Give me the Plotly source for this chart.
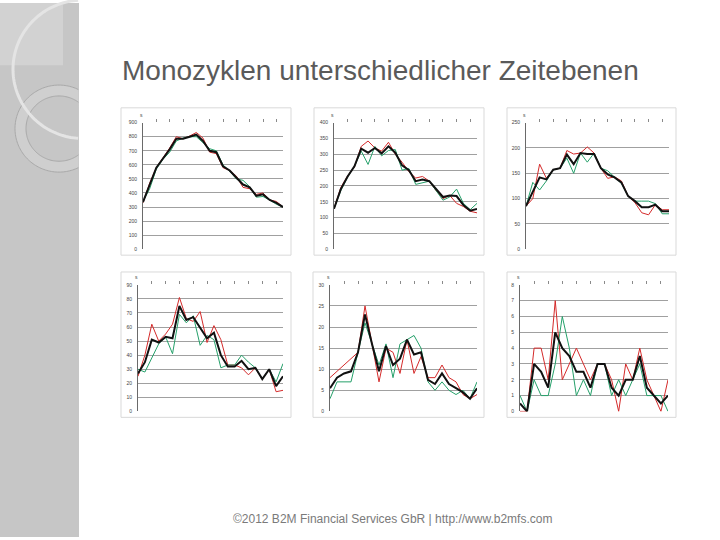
import numpy as np
import plotly.graph_objects as go

W, H = 720, 540

# ---------------- data ----------------
red1 = [330, 470, 580, 650, 720, 800, 785, 805, 830, 790, 690, 680, 580, 560, 520, 440, 430, 390, 400, 350, 340, 300]
green1 = [340, 430, 570, 640, 690, 770, 790, 800, 800, 760, 715, 700, 600, 555, 500, 490, 445, 370, 375, 350, 320, 300]
black1 = [335, 455, 580, 645, 710, 785, 785, 800, 815, 770, 700, 690, 590, 560, 510, 460, 440, 380, 390, 350, 330, 300]

red2 = [128, 195, 232, 260, 325, 342, 320, 310, 338, 300, 275, 245, 225, 230, 215, 185, 160, 170, 145, 135, 120, 115]
green2 = [128, 185, 228, 262, 310, 268, 325, 295, 312, 315, 250, 255, 205, 210, 215, 185, 155, 165, 190, 145, 125, 145]
black2 = [128, 190, 230, 262, 318, 305, 320, 303, 325, 305, 265, 250, 215, 220, 215, 190, 165, 170, 168, 140, 122, 127]

red3 = [85, 100, 168, 140, 157, 160, 195, 188, 190, 202, 190, 160, 140, 143, 135, 105, 92, 72, 68, 88, 78, 78]
green3 = [85, 132, 117, 135, 157, 160, 180, 150, 190, 172, 190, 160, 155, 142, 130, 105, 95, 95, 95, 90, 70, 70]
black3 = [85, 115, 142, 138, 157, 160, 187, 168, 190, 188, 188, 160, 148, 142, 132, 105, 95, 83, 83, 88, 75, 75]

red4 = [25, 40, 62, 50, 55, 62, 81, 66, 64, 71, 49, 61, 51, 33, 33, 31, 26, 31, 23, 30, 14, 15]
green4 = [30, 28, 38, 48, 53, 41, 69, 63, 68, 47, 54, 51, 31, 33, 33, 40, 35, 31, 23, 30, 21, 34]
black4 = [27, 35, 51, 49, 53, 52, 75, 65, 67, 59, 52, 56, 40, 32, 32, 36, 30, 31, 23, 30, 18, 25]

red5 = [8, 9.5, 11, 12.5, 14, 25, 16, 7, 15, 14, 9, 17, 9, 13, 8, 8, 11, 8, 7, 4, 3, 4]
green5 = [3, 7, 7, 7, 14, 21, 16, 11, 16, 8, 16, 17, 18, 15, 7, 5, 7, 5, 4, 5, 3, 7]
black5 = [5.5, 8, 9, 9.5, 14, 23, 16, 9.5, 15.5, 11, 12.5, 17, 13.5, 14, 7.5, 6.5, 9, 6.5, 5.5, 4.5, 3, 5.5]

red6 = [0, 0, 4, 4, 2, 7, 2, 3, 4, 3, 2, 3, 3, 2, 0, 3, 2, 4, 2, 1, 0, 2]
green6 = [1, 0, 2, 1, 1, 3, 6, 4, 1, 2, 1, 3, 3, 1, 2, 1, 2, 3, 1, 1, 1, 0]
black6 = [0.5, 0, 3, 2.5, 1.5, 5, 4, 3.5, 2.5, 2.5, 1.5, 3, 3, 1.5, 1, 2, 2, 3.5, 1.5, 1, 0.5, 1]

y_max = [900, 400, 250, 90, 30, 8]
y_step = [100, 50, 50, 10, 5, 1]

title_text = "Monozyklen unterschiedlicher Zeitebenen"
footer_text = "©2012 B2M Financial Services GbR | http://www.b2mfs.com"

series = [(red1, green1, black1), (red2, green2, black2), (red3, green3, black3),
          (red4, green4, black4), (red5, green5, black5), (red6, green6, black6)]

# ---------------- layout geometry (pixels) ----------------
plot_px = [  # x0, x1, ytop, ybottom
    (143, 283, 121, 249), (334, 477, 121, 249), (526, 669, 121, 249),
    (138, 283, 285, 413), (330, 477, 285, 413), (520, 668, 285, 413),
]
panel_px = [
    (121, 106, 291, 255), (314, 106, 484, 255), (507, 106, 676, 255),
    (121, 272, 291, 419), (313, 272, 484, 419), (507, 272, 676, 419),
]


def px(x):
    return x / W


def py(y):
    return 1 - y / H


fig = go.Figure()
layout = dict(
    width=W, height=H, margin=dict(l=0, r=0, t=0, b=0),
    paper_bgcolor="white", plot_bgcolor="white", showlegend=False,
    font=dict(family="Liberation Sans, Arial, sans-serif"),
)
shapes = []
annotations = []

# ---- left decorative strip ----
shapes.append(dict(type="rect", xref="paper", yref="paper", x0=0, x1=px(79), y0=0, y1=1,
                   fillcolor="#c6c6c6", line=dict(width=0), layer="below"))
shapes.append(dict(type="rect", xref="paper", yref="paper", x0=0, x1=px(63), y0=py(63), y1=1,
                   fillcolor="#d2d2d2", line=dict(width=0), layer="below"))


def circle_path(cx, cy, r, clamp=True, xmax=78.5):
    t = np.linspace(0, 2 * np.pi, 181)
    xs = cx + r * np.cos(t)
    ys = cy + r * np.sin(t)
    if clamp:
        xs = np.minimum(xs, xmax)
        pts = [f"{px(a):.5f},{py(b):.5f}" for a, b in zip(xs, ys)]
        return "M" + " L".join(pts) + " Z"
    segs = []
    cur = []
    for a, b in zip(xs, ys):
        if a <= xmax:
            cur.append(f"{px(a):.5f},{py(b):.5f}")
        else:
            if len(cur) > 1:
                segs.append("M" + " L".join(cur))
            cur = []
    if len(cur) > 1:
        segs.append("M" + " L".join(cur))
    return " ".join(segs)


# ring band
shapes.append(dict(type="path", xref="paper", yref="paper", path=circle_path(59, 127, 44),
                   fillcolor="#cfcfcf", line=dict(width=0), layer="below"))
shapes.append(dict(type="path", xref="paper", yref="paper", path=circle_path(59, 127, 33),
                   fillcolor="#c6c6c6", line=dict(width=0), layer="below"))
shapes.append(dict(type="path", xref="paper", yref="paper", path=circle_path(59, 127, 44, clamp=False),
                   line=dict(color="#a9a9a9", width=1), layer="below"))
shapes.append(dict(type="path", xref="paper", yref="paper", path=circle_path(59, 127, 33, clamp=False),
                   line=dict(color="#a9a9a9", width=1), layer="below"))
# big light arc
shapes.append(dict(type="path", xref="paper", yref="paper", path=circle_path(83, 67, 70, clamp=False),
                   line=dict(color="#e4e4e4", width=3), layer="below"))

# ---- panels ----
for (x0, y0, x1, y1) in panel_px:
    shapes.append(dict(type="rect", xref="paper", yref="paper", x0=px(x0), x1=px(x1),
                       y0=py(y1), y1=py(y0), fillcolor="white",
                       line=dict(color="#d9d9d9", width=1), layer="below"))

for i, ((r, g, b), (x0, x1, yt, yb)) in enumerate(zip(series, plot_px)):
    k = i + 1
    xa = "x" if k == 1 else f"x{k}"
    ya = "y" if k == 1 else f"y{k}"
    n = len(b)
    xs = list(range(n))
    fig.add_trace(go.Scatter(x=xs, y=r, mode="lines", line=dict(color="#d42a2a", width=1),
                             xaxis=xa, yaxis=ya, hoverinfo="skip"))
    fig.add_trace(go.Scatter(x=xs, y=g, mode="lines", line=dict(color="#25a06a", width=1),
                             xaxis=xa, yaxis=ya, hoverinfo="skip"))
    fig.add_trace(go.Scatter(x=xs, y=b, mode="lines", line=dict(color="#111111", width=2),
                             xaxis=xa, yaxis=ya, hoverinfo="skip"))
    xkey = "xaxis" if k == 1 else f"xaxis{k}"
    ykey = "yaxis" if k == 1 else f"yaxis{k}"
    layout[xkey] = dict(domain=[px(x0), px(x1)], range=[0, n - 1], anchor=ya, side="top",
                        showgrid=False, zeroline=False, showline=False,
                        tickmode="array", tickvals=list(range(2, n - 1, 2)),
                        ticks="outside", ticklen=3, tickcolor="#8a8a8a", tickwidth=1,
                        showticklabels=False, fixedrange=True)
    layout[ykey] = dict(domain=[py(yb), py(yt)], range=[0, y_max[i]], anchor=xa,
                        tickmode="linear", tick0=0, dtick=y_step[i],
                        showgrid=True, gridcolor="#a0a0a0", gridwidth=1,
                        zeroline=False, showline=True, linecolor="#6a6a6a", linewidth=1,
                        ticks="", tickfont=dict(size=5, color="#444444"),
                        ticklabelstandoff=4, fixedrange=True)
    annotations.append(dict(xref="paper", yref="paper", x=px(x0 - 2), y=py(yt - 8),
                            text="s", showarrow=False, font=dict(size=5, color="#444444"),
                            xanchor="center", yanchor="middle"))

annotations.append(dict(xref="paper", yref="paper", x=px(120), y=py(68), text=title_text,
                        showarrow=False, xanchor="left", yanchor="middle",
                        font=dict(size=28, color="#5a5a5a", family="Liberation Sans, Arial, sans-serif")))
annotations.append(dict(xref="paper", yref="paper", x=px(393), y=py(522), text=footer_text,
                        showarrow=False, xanchor="center", yanchor="middle",
                        font=dict(size=12, color="#7a7a7a", family="Liberation Sans, Arial, sans-serif")))

layout["shapes"] = shapes
layout["annotations"] = annotations
fig.update_layout(**layout)
fig.write_html("out.html", config={"displayModeBar": False},
               post_script="document.body.style.margin='0';document.body.style.padding='0';")
